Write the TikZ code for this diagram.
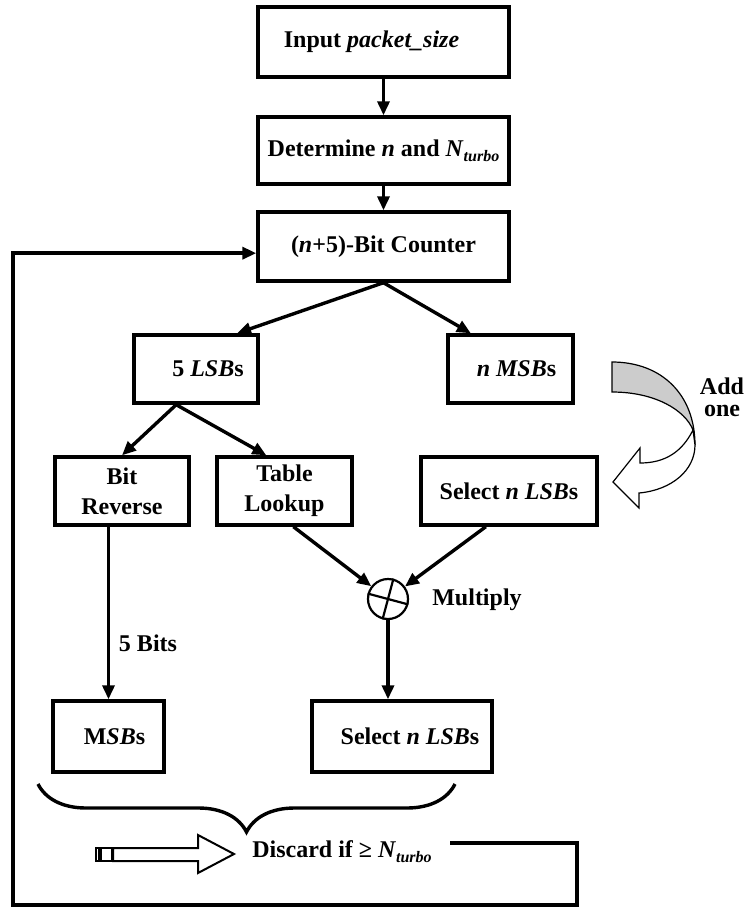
\documentclass[tikz,border=0pt]{standalone}
\usepackage{fontspec}
\setmainfont{Liberation Serif}
\usepackage{tikz}
\usetikzlibrary{arrows.meta,decorations.pathreplacing}
\newcommand{\Nturbo}{\textit{N}\raisebox{-0.45ex}{\footnotesize\textit{turbo}}}

\begin{document}
\begin{tikzpicture}[x=0.5pt, y=-0.5pt,
    font=\fontsize{12}{15}\selectfont\bfseries,
    box/.style={draw, rectangle, line width=1.7pt, inner sep=1pt, align=center},
    arr/.style={line width=1.7pt, -{Triangle[length=7pt,width=6pt]}},
    lab/.style={inner sep=0pt, align=center}]
    \useasboundingbox (0,0) rectangle (751,907);

    % Top chain
    \node[box, minimum width=125.5pt, minimum height=35pt] (inp) at (383.5,42) {Input \textit{packet\_size}\hspace{12pt}};
    \node[box, minimum width=125.5pt, minimum height=33.5pt] (det) at (383.5,150.5) {Determine \textit{n} and \Nturbo};
    \node[box, minimum width=125.5pt, minimum height=34.5pt] (counter) at (383.5,246.5) {(\textit{n}+5)-Bit Counter};

    % Split nodes
    \node[box, minimum width=62pt, minimum height=34pt] (lsb) at (196,369) {\hspace{12pt}5 \textit{LSB}s};
    \node[box, minimum width=62.5pt, minimum height=34pt] (msb) at (510.5,369) {\hspace{6pt}\textit{n MSB}s};

    % Middle row
    \node[box, minimum width=67pt, minimum height=34pt] (rev) at (122,491) {Bit\\Reverse};
    \node[box, minimum width=67.5pt, minimum height=34pt] (lookup) at (284.5,491) {Table\\Lookup};
    \node[box, minimum width=88pt, minimum height=34pt] (selA) at (509,491) {Select \textit{n LSB}s};
    \node[draw, circle, line width=1.1pt, minimum size=20pt, inner sep=0pt] (mult) at (388,599) {};
    \draw[line width=1.1pt] (mult.165) -- (mult.-15);
    \draw[line width=1.1pt] (mult.75) -- (mult.255);

    % Bottom row
    \node[box, minimum width=55.5pt, minimum height=35.5pt] (msbs) at (108.5,736.5) {\hspace{6pt}M\textit{SB}s};
    \node[box, minimum width=90pt, minimum height=35.5pt] (selB) at (402,736.5) {\hspace{8pt}Select \textit{n LSB}s};

    % Labels
    \node[lab] (bits) at (148,643) {5 Bits};
    \node[lab] (multlab) at (477,600) {Multiply};
    \node[lab, font=\fontsize{12}{11}\selectfont\bfseries] (addone) at (722,397) {Add\\one};
    \node[lab] (disc) at (342,852) {Discard if ≥ \Nturbo};

    % Edges
    \draw[arr] (inp) -- (det);
    \draw[arr] (det) -- (counter);
    \draw[arr] (counter.south) -- (lsb.41);
    \draw[arr] (counter.south) -- (msb.138);
    \draw[arr] (lsb.241) -- (rev.north);
    \draw[arr] (lsb.241) -- (lookup.117);
    \draw[arr] (lookup.-76) -- (mult);
    \draw[arr] (selA.237) -- (mult);
    \draw[arr] (mult.south) -- (mult.south |- selB.north);
    \draw[arr] (msbs.north |- rev.south) -- (msbs.north);

    % Add one curved arrow
    \filldraw[fill=gray!40, line width=0.6pt] (612,362) .. controls (662,362) and (695,395) .. (695,445)
        -- (693,430) .. controls (685,410) and (655,392) .. (612,392) -- cycle;
    \filldraw[fill=white, line width=0.6pt] (693,430) .. controls (682,452) and (665,463) .. (640,463)
        -- (640,448) -- (613,482) -- (639,508) -- (639,493)
        .. controls (672,490) and (695,470) .. (695,445) -- cycle;

    % Brace
    \draw[line width=1.7pt, decorate, decoration={brace, mirror, amplitude=24pt}] (38,784) -- (455,784);

    % Block arrow
    \draw[line width=1pt] (113,848) -- (198,848) -- (198,835) -- (234,854) -- (198,873)
        -- (198,861) -- (113,861) -- cycle;
    \draw[line width=1pt] (101,848) rectangle (112,861);
    \draw[line width=1pt] (95.5,848) rectangle (98.5,861);

    % Feedback loop
    \coordinate (fb) at (450,843);
    \draw[arr] (fb) -- (577,843) -- (577,905) -- (13,905) |- (counter.183);
\end{tikzpicture}
\end{document}
